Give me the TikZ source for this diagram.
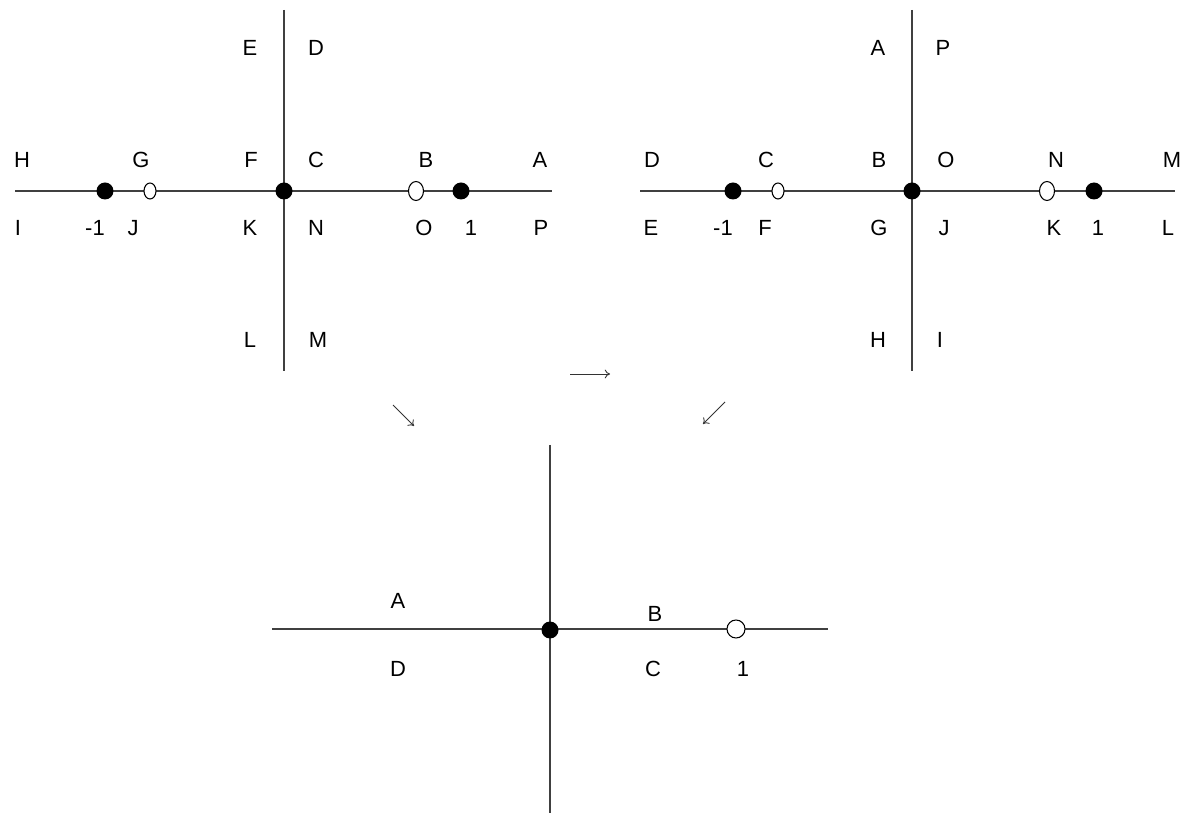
\documentclass[tikz,border=0pt]{standalone}
\usepackage{fontspec}
\setmainfont{Liberation Sans}
\usetikzlibrary{arrows.meta}
\begin{document}
\begin{tikzpicture}[x=0.02cm,y=-0.02cm,
  axis/.style={draw=black!75, line width=0.7pt},
  fdot/.style={circle, fill=black, inner sep=0pt, minimum size=0.34cm},
  lbl/.style={font=\fontsize{12.5}{14}\selectfont, inner sep=0pt, anchor=center},
  marrow/.style={draw=black!80, line width=0.5pt, -{To[length=3pt,width=5pt]}}
]
\useasboundingbox (0,0) rectangle (1190,813);
% ---------- left diagram ----------
\coordinate (l-w) at (15,191); \coordinate (l-e) at (552,191);
\coordinate (l-n) at (284,10);  \coordinate (l-s) at (284,371);
\draw[axis] (l-w) -- (l-e);
\draw[axis] (l-n) -- (l-s);
\node[fdot] (l-d1) at (105,191) {};
\node[fdot] (l-d0) at (284,191) {};
\node[fdot] (l-d2) at (461,191) {};
\draw[line width=0.6pt, fill=white] (150,191) ellipse [x radius=6, y radius=8];
\draw[line width=0.6pt, fill=white] (416,191) ellipse [x radius=7.5, y radius=9.5];
\foreach \t/\x/\y in {H/22/160, G/141/160, F/251/160, C/316/160, B/426/160, A/540/160,
  I/18/228, J/133/228, K/250/228, N/316/228, O/424/228, P/541/228,
  E/250/48, D/316/48, L/250/340, M/318/340}
  \node[lbl] (l-\t) at (\x,\y) {\t};
\node[lbl] (l-m1) at (95,228) {-1};
\node[lbl] (l-one) at (471,228) {1};
% ---------- right diagram ----------
\coordinate (r-w) at (640,191); \coordinate (r-e) at (1175,191);
\coordinate (r-n) at (912,10);  \coordinate (r-s) at (912,371);
\draw[axis] (r-w) -- (r-e);
\draw[axis] (r-n) -- (r-s);
\node[fdot] (r-d1) at (733,191) {};
\node[fdot] (r-d0) at (912,191) {};
\node[fdot] (r-d2) at (1094,191) {};
\draw[line width=0.6pt, fill=white] (778,191) ellipse [x radius=6, y radius=8];
\draw[line width=0.6pt, fill=white] (1047,191) ellipse [x radius=7.5, y radius=9.5];
\foreach \t/\x/\y in {D/652/160, C/766/160, B/879/160, O/946/160, N/1056/160, M/1172/160,
  E/651/228, F/765/228, G/879/228, J/944/228, K/1054/228, L/1168/228,
  A/878/48, P/943/48, H/878/340, I/940/340}
  \node[lbl] (r-\t) at (\x,\y) {\t};
\node[lbl] (r-m1) at (723,228) {-1};
\node[lbl] (r-one) at (1098,228) {1};
% ---------- arrows ----------
\coordinate (a1s) at (570,374); \coordinate (a1e) at (610,374);
\coordinate (a2s) at (393,405); \coordinate (a2e) at (414,426);
\coordinate (a3s) at (725,402); \coordinate (a3e) at (703,424);
\draw[marrow] (a1s) -- (a1e);
\draw[marrow] (a2s) -- (a2e);
\draw[marrow] (a3s) -- (a3e);
% ---------- bottom diagram ----------
\coordinate (b-w) at (272,629); \coordinate (b-e) at (828,629);
\coordinate (b-n) at (550,445);  \coordinate (b-s) at (550,813);
\draw[axis] (b-w) -- (b-e);
\draw[axis] (b-n) -- (b-s);
\node[fdot] (b-d0) at (550,630) {};
\draw[line width=0.6pt, fill=white] (736,629) circle [radius=9];
\node[lbl] (b-A) at (398,601) {A};
\node[lbl] (b-B) at (655,614) {B};
\node[lbl] (b-D) at (398,669) {D};
\node[lbl] (b-C) at (653,669) {C};
\node[lbl] (b-one) at (743,669) {1};
\end{tikzpicture}
\end{document}
